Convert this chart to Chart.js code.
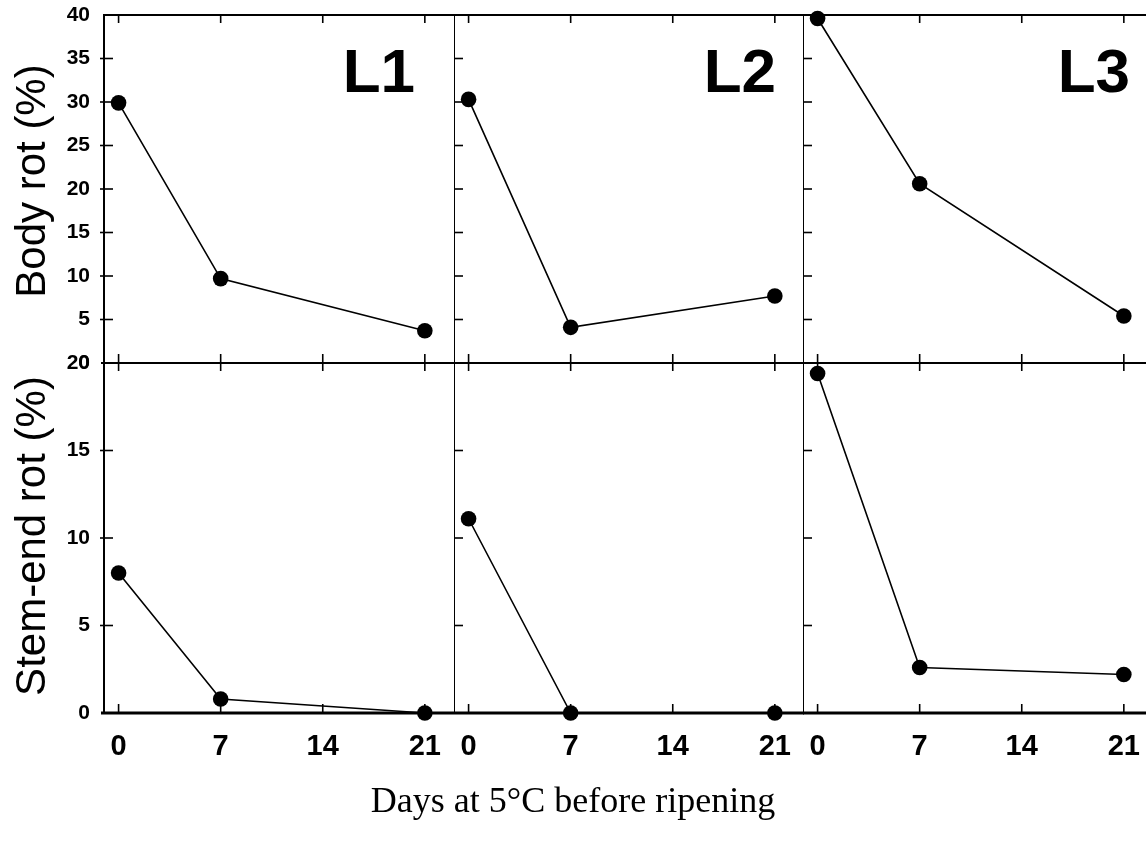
<!DOCTYPE html>
<html><head><meta charset="utf-8">
<script src="https://cdn.jsdelivr.net/npm/chart.js@4"></script>
<style>
html,body{margin:0;padding:0;width:1146px;height:844px;overflow:hidden;background:#fff}
body{position:relative}
canvas{position:absolute;display:block}
.t{position:absolute;color:#000;white-space:nowrap;line-height:1}
.sans{font-family:"Liberation Sans",Arial,sans-serif}
.serif{font-family:"Liberation Serif","Times New Roman",serif}
</style></head>
<body>
<canvas id="c00" width="454" height="380" style="left:0;top:0"></canvas>
<canvas id="c01" width="350" height="380" style="left:454px;top:0"></canvas>
<canvas id="c02" width="350" height="380" style="left:803px;top:0"></canvas>
<canvas id="c10" width="454" height="498" style="left:0;top:346px"></canvas>
<canvas id="c11" width="350" height="498" style="left:454px;top:346px"></canvas>
<canvas id="c12" width="350" height="498" style="left:803px;top:346px"></canvas>

<div class="t sans" id="yt0" style="font-size:42px;left:31px;top:181px;transform:translate(-50%,-50%) rotate(-90deg)"></div>
<div class="t sans" id="yt1" style="font-size:42px;left:31px;top:536px;transform:translate(-50%,-50%) rotate(-90deg)"></div>
<div class="t serif" id="xt" style="font-size:36px;left:573px;top:800px;transform:translate(-50%,-50%)"></div>

<script>
// ---- data ----
const days = [0, 7, 21];
const xTicks = [0, 7, 14, 21];
const bodyTicks = [0, 5, 10, 15, 20, 25, 30, 35, 40];
const stemTicks = [0, 5, 10, 15, 20];
const panelLabels = ['L1', 'L2', 'L3'];
const bodyL1 = [29.9, 9.7, 3.7];
const bodyL2 = [30.3, 4.1, 7.7];
const bodyL3 = [39.6, 20.6, 5.4];
const stemL1 = [8.0, 0.8, 0.0];
const stemL2 = [11.1, 0.0, 0.0];
const stemL3 = [19.4, 2.6, 2.2];
const rowTitles = ['Body rot (%)', 'Stem-end rot (%)'];
const xTitle = 'Days at 5°C before ripening';

document.getElementById('yt0').textContent = rowTitles[0];
document.getElementById('yt1').textContent = rowTitles[1];
document.getElementById('xt').textContent = xTitle;

const bodySeries = [bodyL1, bodyL2, bodyL3];
const stemSeries = [stemL1, stemL2, stemL3];

const FONT = '"Liberation Sans", Arial, sans-serif';

const axesPlugin = {
  id: 'panelAxes',
  beforeDatasetsDraw(chart, args, o) {
    const {ctx, chartArea: a, scales: {x, y}} = chart;
    ctx.save();
    ctx.strokeStyle = '#000';
    ctx.lineCap = 'butt';
    // left spine
    ctx.lineWidth = 2;
    ctx.beginPath(); ctx.moveTo(a.left, a.top - 1); ctx.lineTo(a.left, a.bottom + 1); ctx.stroke();
    // top line
    ctx.lineWidth = 2;
    ctx.beginPath(); ctx.moveTo(a.left, a.top); ctx.lineTo(a.right + 2, a.top); ctx.stroke();
    // bottom line
    ctx.lineWidth = o.row === 1 ? 3 : 2;
    ctx.beginPath(); ctx.moveTo(a.left - (o.col === 0 ? 3 : 0), a.bottom); ctx.lineTo(a.right + 2, a.bottom); ctx.stroke();
    // y ticks
    ctx.lineWidth = 1.6;
    o.yTicks.forEach(v => {
      const py = y.getPixelForValue(v);
      if (Math.abs(py - a.top) < 1 || Math.abs(py - a.bottom) < 1) return;
      ctx.beginPath(); ctx.moveTo(a.left - (o.col === 0 ? 4 : 8), py); ctx.lineTo(a.left + 9, py); ctx.stroke();
    });
    // x ticks (top pointing down, bottom pointing up)
    xTicks.forEach(v => {
      const px = x.getPixelForValue(v);
      ctx.beginPath(); ctx.moveTo(px, a.top); ctx.lineTo(px, a.top + 8); ctx.stroke();
      ctx.beginPath(); ctx.moveTo(px, a.bottom - 9); ctx.lineTo(px, a.bottom); ctx.stroke();
    });
    ctx.restore();
  },
  afterDraw(chart, args, o) {
    if (o.row !== 0) return;
    const {ctx, chartArea: a} = chart;
    ctx.save();
    ctx.fillStyle = '#000';
    ctx.font = 'bold 62px ' + FONT;
    ctx.textAlign = 'right';
    ctx.textBaseline = 'alphabetic';
    ctx.fillText(o.label, a.left + o.labelRight, 92);
    ctx.restore();
  }
};

function makePanel(row, col) {
  const vals = row === 0 ? bodySeries[col] : stemSeries[col];
  const yTicks = row === 0 ? bodyTicks : stemTicks;
  const yMax = row === 0 ? 40 : 20;
  const canvas = document.getElementById('c' + row + col);
  const labelRight = [311, 322, 327][col];
  const showX = row === 1;
  const showY = col === 0;
  return new Chart(canvas, {
    type: 'line',
    data: {
      datasets: [{
        data: days.map((d, i) => ({x: d, y: vals[i]})),
        borderColor: '#000',
        borderWidth: 1.6,
        backgroundColor: '#000',
        pointBackgroundColor: '#000',
        pointBorderColor: '#000',
        pointRadius: 7.8,
        pointBorderWidth: 0,
        tension: 0,
        clip: false
      }]
    },
    options: {
      responsive: false,
      devicePixelRatio: 1,
      animation: false,
      events: [],
      layout: {autoPadding: false, padding: {top: row === 0 ? 15 : 17, bottom: row === 0 ? 17 : 0, left: 0, right: 0}},
      plugins: {
        legend: {display: false},
        tooltip: {enabled: false},
        panelAxes: {row, col, yTicks, label: panelLabels[col], labelRight}
      },
      scales: {
        x: {
          type: 'linear', min: -1, max: 23,
          display: showX,
          afterBuildTicks: s => { s.ticks = xTicks.map(v => ({value: v})); },
          afterFit: s => { if (showX) s.height = 131; else s.height = 0; s.paddingLeft = 0; s.paddingRight = 0; },
          grid: {display: false, drawTicks: false},
          border: {display: false},
          ticks: {
            color: '#000', padding: 17, maxRotation: 0, autoSkip: false,
            font: {family: FONT, size: 29, weight: 'bold'}
          }
        },
        y: {
          type: 'linear', min: 0, max: yMax,
          display: showY,
          afterBuildTicks: s => { s.ticks = yTicks.map(v => ({value: v})); },
          afterFit: s => { s.width = showY ? 104 : 0; s.paddingTop = 0; s.paddingBottom = 0; },
          grid: {display: false, drawTicks: false},
          border: {display: false},
          ticks: {
            color: '#000', padding: 14,
            font: {family: FONT, size: 21, weight: 'bold'}
          }
        }
      }
    },
    plugins: [axesPlugin]
  });
}

for (let r = 0; r < 2; r++) for (let c = 0; c < 3; c++) makePanel(r, c);
</script>
</body></html>
